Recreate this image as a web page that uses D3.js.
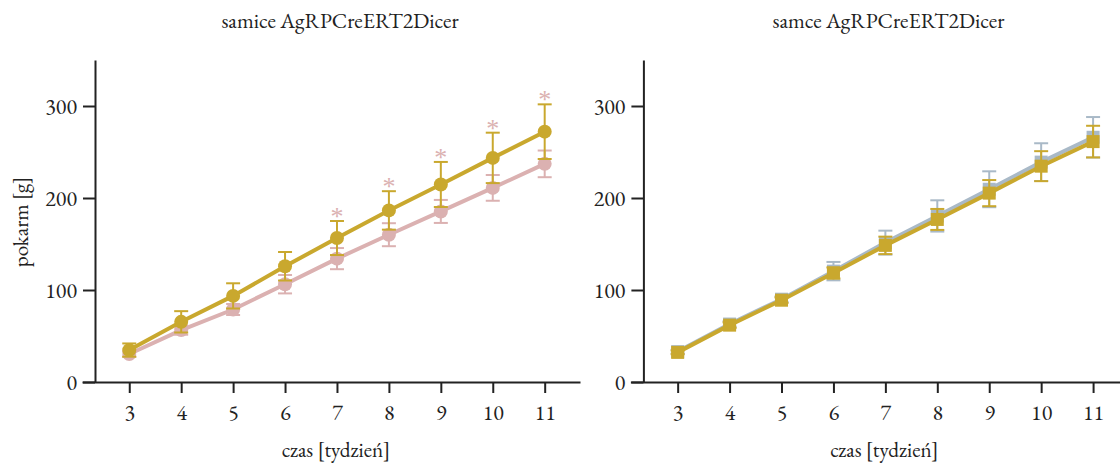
<!DOCTYPE html>
<html>
<head>
<meta charset="utf-8">
<script src="https://cdn.jsdelivr.net/npm/d3@7"></script>
</head>
<body style="margin:0;background:#fff">
<div id="chart"></div>
<script>
// weeks
var weeks = [3, 4, 5, 6, 7, 8, 9, 10, 11];
var yTicks = [0, 100, 200, 300];

// females (samice)
var femaleGoldMean = [34.7, 65.4, 93.6, 125.8, 156.5, 186.5, 214.7, 243.6, 272.1];
var femaleGoldSd   = [7.2, 11.6, 13.7, 15.5, 18.5, 20.9, 24.5, 27.4, 29.7];
var femalePinkMean = [30.4, 56.4, 78.8, 106.3, 134.1, 160.1, 185.4, 211.0, 237.1];
var femalePinkSd   = [3, 5, 6, 10, 11.5, 12.5, 12.5, 14, 14.5];
var femaleStars    = [false, false, false, false, true, true, true, true, true];

// males (samce)
var maleBlueMean = [33, 63, 90, 120.5, 151.5, 180.5, 209.5, 239, 266];
var maleBlueSd   = [2, 3, 3, 10, 13, 17, 19.5, 20.5, 22];
var maleGoldMean = [32.2, 61.8, 88.9, 118.5, 148.5, 176.7, 205.3, 234.6, 261.3];
var maleGoldSd   = [2, 3, 3, 6, 9.5, 11.4, 14.2, 16.3, 17.2];

var gold = "#c9a82e", pink = "#dbb1b1", blue = "#a9b9c7";
var font = "EB Garamond, Liberation Serif, serif";

var svg = d3.select("#chart").append("svg")
    .attr("width", 1120)
    .attr("height", 465);

var y = d3.scaleLinear().domain([0, 350]).range([382, 60]);

function panel(offset, title, series, stars) {
    var g = svg.append("g").attr("transform", "translate(" + offset + ",0)");
    var x = d3.scaleLinear().domain([2.09, 11.68]).range([82, 580]);

    // x axis
    var xAxis = g.append("g")
        .attr("transform", "translate(0,382)")
        .call(d3.axisBottom(x).tickValues(weeks).tickSize(11).tickSizeOuter(0));
    xAxis.attr("font-family", font).attr("font-size", 22);
    xAxis.selectAll("text").attr("y", 38).attr("dy", 0).attr("fill", "#222");

    // y axis
    var yAxis = g.append("g")
        .attr("transform", "translate(95,0)")
        .call(d3.axisLeft(y).tickValues(yTicks).tickSize(12).tickSizeOuter(0).tickPadding(6));
    yAxis.attr("font-family", font).attr("font-size", 22);
    yAxis.selectAll("text").attr("fill", "#222");

    g.selectAll(".domain, .tick line").attr("stroke", "#222").attr("stroke-width", 2);

    g.append("text")
        .attr("x", 340).attr("y", 28)
        .attr("text-anchor", "middle")
        .attr("font-family", font).attr("font-size", 21.6)
        .attr("fill", "#222")
        .text(title);

    g.append("text")
        .attr("x", 336).attr("y", 457)
        .attr("text-anchor", "middle")
        .attr("font-family", font).attr("font-size", 21.2)
        .attr("fill", "#222")
        .text("czas [tydzień]");

    var line = d3.line()
        .x(function(d, i) { return x(weeks[i]); })
        .y(function(d) { return y(d); });

    series.forEach(function(s) {
        var sg = g.append("g");
        // error bars
        s.mean.forEach(function(m, i) {
            var cx = x(weeks[i]);
            sg.append("line")
                .attr("x1", cx).attr("x2", cx)
                .attr("y1", y(m - s.sd[i])).attr("y2", y(m + s.sd[i]))
                .attr("stroke", s.color).attr("stroke-width", 2);
            [m - s.sd[i], m + s.sd[i]].forEach(function(v) {
                sg.append("line")
                    .attr("x1", cx - 7).attr("x2", cx + 7)
                    .attr("y1", y(v)).attr("y2", y(v))
                    .attr("stroke", s.color).attr("stroke-width", 2);
            });
        });
        sg.append("path")
            .datum(s.mean)
            .attr("d", line)
            .attr("fill", "none")
            .attr("stroke", s.color)
            .attr("stroke-width", 4);
        if (s.shape === "circle") {
            sg.selectAll("circle").data(s.mean).enter().append("circle")
                .attr("cx", function(d, i) { return x(weeks[i]); })
                .attr("cy", function(d) { return y(d); })
                .attr("r", 7)
                .attr("fill", s.color);
        } else {
            sg.selectAll("rect").data(s.mean).enter().append("rect")
                .attr("x", function(d, i) { return x(weeks[i]) - 6.5; })
                .attr("y", function(d) { return y(d) - 6.5; })
                .attr("width", 13).attr("height", 13)
                .attr("fill", s.color);
        }
    });

    if (stars) {
        g.selectAll(".star").data(weeks).enter()
            .filter(function(d, i) { return stars[i]; })
            .append("text")
            .attr("class", "star")
            .attr("x", function(d) { return x(d); })
            .attr("y", function(d) {
                var i = weeks.indexOf(d);
                return y(series[1].mean[i] + series[1].sd[i]) + 4;
            })
            .attr("text-anchor", "middle")
            .attr("font-family", "Liberation Serif, serif").attr("font-size", 26)
            .attr("fill", pink)
            .text("*");
    }
    return g;
}

panel(0, "samice AgRPCreERT2Dicer", [
    {mean: femalePinkMean, sd: femalePinkSd, color: pink, shape: "circle"},
    {mean: femaleGoldMean, sd: femaleGoldSd, color: gold, shape: "circle"}
], femaleStars);

panel(548.4, "samce AgRPCreERT2Dicer", [
    {mean: maleBlueMean, sd: maleBlueSd, color: blue, shape: "square"},
    {mean: maleGoldMean, sd: maleGoldSd, color: gold, shape: "square"}
], null);

// y axis label (left panel only)
svg.append("text")
    .attr("transform", "translate(28,222) rotate(-90)")
    .attr("text-anchor", "middle")
    .attr("font-family", font).attr("font-size", 21.2)
    .attr("fill", "#222")
    .text("pokarm [g]");
</script>
</body>
</html>
